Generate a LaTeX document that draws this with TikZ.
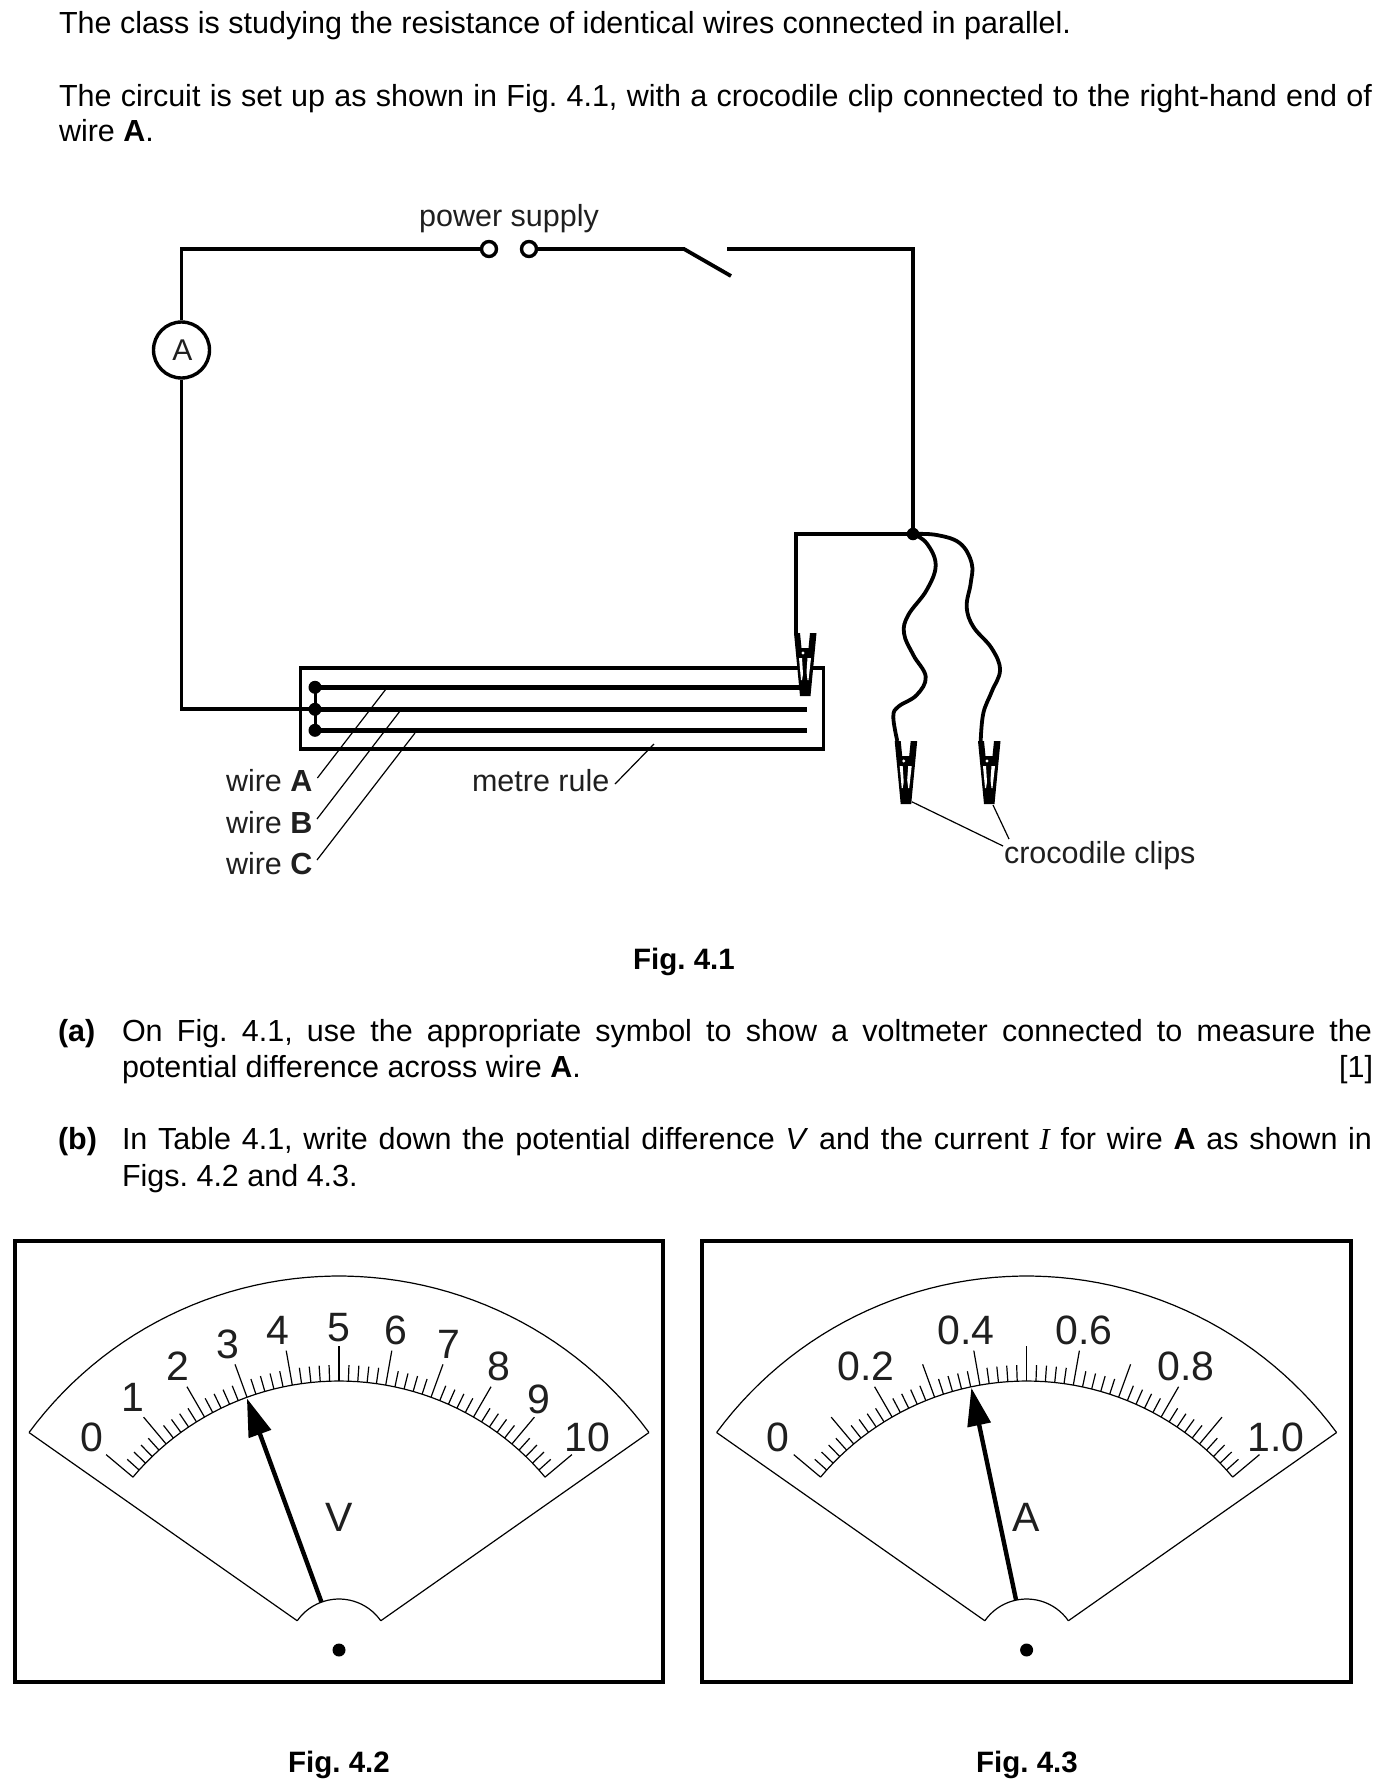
\documentclass[tikz,border=0pt]{standalone}
\usepackage{fontspec}
\setmainfont{Liberation Sans}
\newfontfamily\timesit{Liberation Serif}
\usetikzlibrary{arrows.meta}
\newcommand{\bodysz}{\frenchspacing\fontsize{30.5}{30.5}\selectfont}
\newcommand{\capsz}{\frenchspacing\fontsize{29.5}{29.5}\selectfont}
\newcommand{\digsz}{\fontsize{41}{41}\selectfont}
\newcommand{\unitsz}{\fontsize{41}{41}\selectfont}
\tikzset{
  txt/.style={anchor=base west,inner sep=0pt,outer sep=0pt,font=\bodysz,text=black},
  lab/.style={anchor=base west,inner sep=0pt,outer sep=0pt,font=\bodysz,text=black!88},
  figcap/.style={anchor=base,inner sep=0pt,outer sep=0pt,font=\capsz\bfseries,text=black},
  dig/.style={anchor=center,inner sep=0pt,outer sep=0pt,font=\digsz,text=black!88},
  unitlab/.style={anchor=center,inner sep=0pt,outer sep=0pt,font=\unitsz,text=black!88},
  wire/.style={line width=3.8pt,line join=miter},
  barwire/.style={line width=5pt},
  hair/.style={line width=1.2pt},
  metrebox/.style={line width=3.6pt},
  term/.style={circle,draw,line width=3.4pt,fill=white,inner sep=0pt,minimum size=15pt},
  blob/.style={circle,fill=black,inner sep=0pt,minimum size=13pt},
  crocclip/.pic={
    \fill[black] (-11,-63)--(-5,-63)--(-3.5,-48)--(3.5,-48)--(5,-63)--(11.5,-63)--(5.5,0)--(-5,0)--cycle;
    \fill[white] (-6,-38)--(-3,-38)--(-2,-22)--(-3,-16)--(-4,-16)--cycle;
    \fill[white] (2.5,-38)--(6,-38)--(3.5,-16)--(2.5,-16)--(1.5,-24)--cycle;
    \fill[white] (-2,-43) circle (1.7);
  }
}
% #1 prefix, #2 pivot x, #3 needle angle
\newcommand{\meterface}[3]{%
  \begin{scope}[shift={(#2,1650)}]
    \draw[hair,line join=round] plot[domain=-53.56:53.56,samples=56] ({385.3*sin(\x)},{11.3-385.3*cos(\x)});
    \draw[hair] (-310,-217.5) -- ({51*sin(-55)},{-51*cos(-55)});
    \draw[hair] (310,-217.5) -- ({51*sin(55)},{-51*cos(55)});
    \draw[hair] plot[domain=-55:55,samples=24] ({51*sin(\x)},{-51*cos(\x)});
    \draw[hair] plot[domain=-50:50,samples=51] ({269*sin(\x)},{-269*cos(\x)});
    \foreach \i in {0,...,50}{%
      \pgfmathsetmacro{\ang}{-50+2*\i}%
      \pgfmathsetmacro{\len}{ifthenelse(mod(\i,5)==0,304,285)}%
      \draw[hair] ({269*sin(\ang)},{-269*cos(\ang)}) -- ({\len*sin(\ang)},{-\len*cos(\ang)});
    }
    \node[blob] (#1pivot) at (0,0) {};
    \coordinate (#1tail) at ({51*sin(#3)},{-51*cos(#3)});
    \coordinate (#1tip) at ({268*sin(#3)},{-268*cos(#3)});
    \draw[line width=4.4pt,-{Triangle[length=38pt,width=23pt]}] (#1tail) -- (#1tip);
  \end{scope}}
\begin{document}
\begin{tikzpicture}[x=1pt,y=-1pt]
\useasboundingbox[fill=white] (0,0) rectangle (1390,1788);

% text
\node[txt] (t1) at (59,33) {The class is studying the resistance of identical wires connected in parallel.};
\node[txt] (t2) at (59,106) {\makebox[1313pt][s]{The circuit is set up as shown in Fig. 4.1, with a crocodile clip connected to the right-hand end of}};
\node[txt] (t3) at (59,141) {wire \textbf{A}.};
\node[figcap] (f41) at (684,969) {Fig. 4.1};
\node[txt] (qa) at (58,1041) {\textbf{(a)}};
\node[txt] (qa1) at (122,1041) {\makebox[1250pt][s]{On Fig. 4.1, use the appropriate symbol to show a voltmeter connected to measure the}};
\node[txt] (qa2) at (122,1077) {potential difference across wire \textbf{A}.};
\node[txt,anchor=base east] (mark) at (1373,1077) {[1]};
\node[txt] (qb) at (58,1149) {\textbf{(b)}};
\node[txt] (qb1) at (122,1149) {\makebox[1250pt][s]{In Table 4.1, write down the potential difference \textit{V} and the current {\timesit\itshape I} for wire \textbf{A} as shown in}};
\node[txt] (qb2) at (122,1186) {Figs. 4.2 and 4.3.};

% metre rule and wires on it
\node[draw,metrebox,inner sep=0pt,minimum width=523pt,minimum height=81.5pt] (rule) at (562,708.5) {};
\node[blob] (dA) at (315,687.3) {};
\node[blob] (dB) at (315,709.3) {};
\node[blob] (dC) at (315,730.3) {};
\coordinate (eA) at (807,687.3);
\coordinate (eB) at (807,709.3);
\coordinate (eC) at (807,730.3);
\draw[barwire] (dA.center) -- (eA);
\draw[barwire] (dB.center) -- (eB);
\draw[barwire] (dC.center) -- (eC);
\draw[line width=3pt] (dA.center) -- (dC.center);

% circuit
\node[term] (p1) at (489,249) {};
\node[term] (p2) at (529,249) {};
\node[circle,draw,line width=3.4pt,inner sep=0pt,minimum size=56pt,font=\fontsize{30}{30}\selectfont,text=black!88] (ammeter) at (181.5,350) {\hspace{2pt}A};
\node[blob,minimum size=12.5pt] (J) at (913,534) {};
\coordinate (swL) at (684,249);
\coordinate (swE) at (731,276);
\coordinate (swR) at (727,249);
\coordinate (clipA) at (805,696);
\coordinate (clipB) at (905.7,804);
\coordinate (clipC) at (989,804);
\coordinate (clipAtop) at (795.7,634);
\draw[wire] (p1.west) -| (ammeter.north);
\draw[wire] (ammeter.south) |- (dB.center);
\draw[wire] (p2.east) -- (swL) -- (swE);
\draw[wire] (swR) -| (J.center);
\draw[wire] (J.center) -| (clipAtop);
\draw[wire,line join=round] plot[smooth,tension=.65] coordinates {(J.center) (926.7,543.3) (935.7,565) (926.7,590) (908.3,615) (904,633.3) (913.3,655) (925.7,676.7) (916.7,695) (898.3,706.7) (893.3,716.7) (897.3,741)};
\draw[wire,line join=round] plot[smooth,tension=.65] coordinates {(J.center) (936.7,535) (960,543.3) (971.7,563.3) (970.7,583.3) (966.7,606.7) (973.3,626.7) (991.7,648.3) (1000,670) (991.7,691.7) (983.3,713.3) (980.7,741)};
\pic at (clipA) {crocclip};
\pic at (clipB) {crocclip};
\pic at (clipC) {crocclip};

% circuit labels
\node[lab,anchor=base] (lps) at (509,226) {power supply};
\node[lab] (lwA) at (226,791) {wire \textbf{A}};
\node[lab] (lwB) at (226,833) {wire \textbf{B}};
\node[lab] (lwC) at (226,874) {wire \textbf{C}};
\node[lab] (lmr) at (472,791) {metre rule};
\node[lab] (lcc) at (1004,863) {crocodile clips};

% leader lines
\coordinate (lA1) at (386,689);   \coordinate (lA2) at (317.4,778);
\coordinate (lB1) at (399.5,711.7); \coordinate (lB2) at (317,819);
\coordinate (lC1) at (415,733);   \coordinate (lC2) at (317,860);
\coordinate (lR1) at (654,744);   \coordinate (lR2) at (615,784);
\coordinate (lP1) at (911.7,801.7); \coordinate (lP2) at (1003,846);
\coordinate (lQ1) at (993,805);   \coordinate (lQ2) at (1009,839);
\draw[hair] (lA1) -- (lA2);
\draw[hair] (lB1) -- (lB2);
\draw[hair] (lC1) -- (lC2);
\draw[hair] (lR1) -- (lR2);
\draw[hair] (lP1) -- (lP2);
\draw[hair] (lQ1) -- (lQ2);

% Fig 4.2
\node[draw,metrebox,inner sep=0pt,minimum width=648.5pt,minimum height=441pt] (boxV) at (339,1461.5) {};
\meterface{v}{339}{-20.1}
\node[dig] (v0) at (91.5,1437) {0};
\node[dig] (v1) at (133,1397) {1};
\node[dig] (v2) at (178,1366) {2};
\node[dig] (v3) at (228,1344) {3};
\node[dig] (v4) at (278,1330) {4};
\node[dig] (v5) at (339,1327.5) {5};
\node[dig] (v6) at (396,1330) {6};
\node[dig] (v7) at (449,1344) {7};
\node[dig] (v8) at (499,1366) {8};
\node[dig] (v9) at (539,1399) {9};
\node[dig] (v10) at (587.5,1437) {10};
\node[unitlab] (vunit) at (339,1517) {V};
\node[figcap] (f42) at (339,1772) {Fig. 4.2};

% Fig 4.3
\node[draw,metrebox,inner sep=0pt,minimum width=648.5pt,minimum height=441pt] (boxA) at (1026.5,1461.5) {};
\meterface{a}{1026.6}{-11.9}
\node[dig] (a0) at (778,1437) {0};
\node[dig] (a2) at (866,1366) {0.2};
\node[dig] (a4) at (966,1330) {0.4};
\node[dig] (a6) at (1084,1330) {0.6};
\node[dig] (a8) at (1186,1366) {0.8};
\node[dig] (a10) at (1276,1437) {1.0};
\node[unitlab] (aunit) at (1025.7,1517) {A};
\node[figcap] (f43) at (1027,1772) {Fig. 4.3};
\end{tikzpicture}
\end{document}
